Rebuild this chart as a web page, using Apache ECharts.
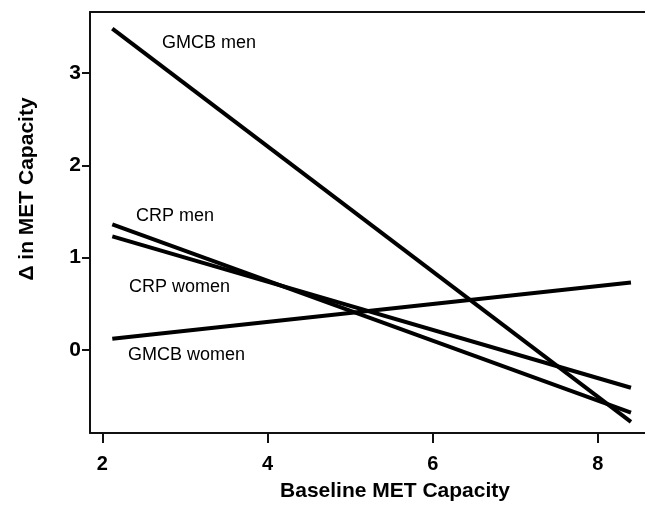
<!DOCTYPE html>
<html>
<head>
<meta charset="utf-8">
<script src="https://cdn.jsdelivr.net/npm/echarts@6/dist/echarts.min.js"></script>
<style>
html,body{margin:0;padding:0;background:#fff;}
#chart{width:645px;height:505px;}
</style>
</head>
<body>
<div id="chart"></div>
<script>
// Data
const baselineX = [2.12, 8.40];
const crpMen = [1.36, -0.68];
const crpWomen = [1.23, -0.41];
const gmcbMen = [3.48, -0.78];
const gmcbWomen = [0.12, 0.73];
const xTicks = [2, 4, 6, 8];
const yTicks = [0, 1, 2, 3];
const seriesNames = ['CRP men', 'CRP women', 'GMCB men', 'GMCB women'];
const xTitle = 'Baseline MET Capacity';
const yTitle = '\u0394 in MET Capacity';

const FONT = '"Liberation Sans", Arial, Helvetica, sans-serif';
const chart = echarts.init(document.getElementById('chart'), null, {renderer: 'canvas'});

function pairs(ys) { return baselineX.map((x, i) => [x, ys[i]]); }
const allSeries = [crpMen, crpWomen, gmcbMen, gmcbWomen];

const option = {
  backgroundColor: '#fff',
  animation: false,
  grid: {left: 90, right: 0, top: 12, bottom: 72, containLabel: false},
  xAxis: [{
    type: 'value', min: 1.85, max: 8.57, position: 'bottom',
    splitLine: {show: false},
    axisLine: {show: true, onZero: false, lineStyle: {color: '#111', width: 2}},
    axisTick: {show: true, length: 10, customValues: xTicks, lineStyle: {color: '#111', width: 2}},
    axisLabel: {show: true, customValues: xTicks, margin: 21, color: '#000', fontFamily: FONT, fontWeight: 'bold', fontSize: 20}
  }, {
    type: 'value', min: 1.85, max: 8.57, position: 'top',
    splitLine: {show: false},
    axisLine: {show: true, onZero: false, lineStyle: {color: '#111', width: 2}},
    axisTick: {show: false}, axisLabel: {show: false}
  }],
  yAxis: {
    type: 'value', min: -0.9, max: 3.66,
    splitLine: {show: false},
    axisLine: {show: true, onZero: false, lineStyle: {color: '#111', width: 2}},
    axisTick: {show: true, length: 8, customValues: yTicks, lineStyle: {color: '#111', width: 2}},
    axisLabel: {show: true, customValues: yTicks, margin: 9, color: '#000', fontFamily: FONT, fontWeight: 'bold', fontSize: 21}
  },
  series: allSeries.map((ys, i) => ({
    name: seriesNames[i],
    type: 'line',
    xAxisIndex: 0,
    data: pairs(ys),
    showSymbol: false,
    symbol: 'none',
    lineStyle: {color: '#000', width: 4},
    z: 3
  })),
  graphic: [
    {type: 'text', left: 162, top: 34, style: {text: seriesNames[2], fontFamily: FONT, fontSize: 18, fill: '#000'}},
    {type: 'text', left: 136, top: 207, style: {text: seriesNames[0], fontFamily: FONT, fontSize: 18, fill: '#000'}},
    {type: 'text', left: 129, top: 278, style: {text: seriesNames[1], fontFamily: FONT, fontSize: 18, fill: '#000'}},
    {type: 'text', left: 128, top: 346, style: {text: seriesNames[3], fontFamily: FONT, fontSize: 18, fill: '#000'}},
    {type: 'text', x: 395, y: 491, style: {text: xTitle, fontFamily: FONT, fontSize: 21, fontWeight: 'bold', fill: '#000', align: 'center', verticalAlign: 'middle'}},
    {type: 'text', x: 27, y: 189, rotation: Math.PI / 2, style: {text: yTitle, fontFamily: FONT, fontSize: 21, fontWeight: 'bold', fill: '#000', align: 'center', verticalAlign: 'middle'}}
  ]
};
chart.setOption(option);
</script>
</body>
</html>
